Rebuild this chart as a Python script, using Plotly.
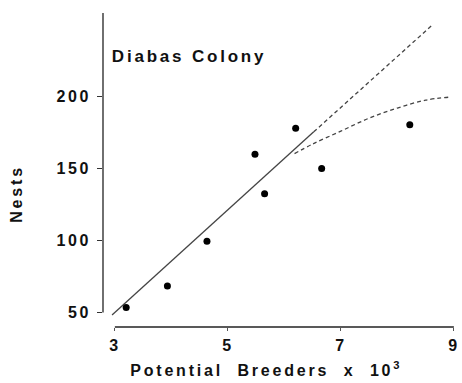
import plotly.graph_objects as go

# Data
breeders = [3.20, 3.93, 4.63, 5.48, 5.65, 6.20, 6.66, 8.22]
nests = [53.5, 68.5, 99.5, 160.0, 132.5, 178.0, 150.0, 180.5]

fit_x = [2.95, 6.52]
fit_y = [48.4, 175.5]

ext_x = [6.52, 8.60]
ext_y = [175.5, 249.0]

curve_x = [6.18, 6.50, 7.00, 7.50, 8.00, 8.50, 8.90]
curve_y = [160.4, 167.0, 176.0, 185.0, 192.0, 197.5, 199.5]

x_ticks = [3, 5, 7, 9]
y_ticks = [50, 100, 150, 200]

X_RANGE = [2.79, 9.02]
Y_RANGE = [40, 258]

FONT = "Liberation Sans, Arial, sans-serif"
INK = "#111111"

def xpaper(v):
    return (v - X_RANGE[0]) / (X_RANGE[1] - X_RANGE[0])

def ypaper(v):
    return (v - Y_RANGE[0]) / (Y_RANGE[1] - Y_RANGE[0])

fig = go.Figure()
fig.add_trace(go.Scatter(x=fit_x, y=fit_y, mode="lines",
                         line=dict(color="#444444", width=1.3), showlegend=False))
fig.add_trace(go.Scatter(x=ext_x, y=ext_y, mode="lines",
                         line=dict(color="#444444", width=1.3, dash="4px,3px"), showlegend=False))
fig.add_trace(go.Scatter(x=curve_x, y=curve_y, mode="lines", line_shape="spline",
                         line=dict(color="#444444", width=1.3, dash="4px,3px"), showlegend=False))
fig.add_trace(go.Scatter(x=breeders, y=nests, mode="markers",
                         marker=dict(color="#000000", size=7), showlegend=False))

fig.update_layout(
    width=462, height=383,
    margin=dict(l=103, r=4, t=13, b=56),
    paper_bgcolor="white", plot_bgcolor="white",
    font=dict(family=FONT, size=16, color=INK, weight="bold"),
    xaxis=dict(range=X_RANGE, tickvals=x_ticks, ticktext=[str(v) for v in x_ticks],
               showgrid=False, zeroline=False, showline=False,
               ticks="outside", ticklen=3, tickcolor="#555", ticklabelstandoff=1,
               tickfont=dict(size=16, weight="bold")),
    yaxis=dict(range=Y_RANGE, tickvals=y_ticks, ticktext=[str(v) for v in y_ticks],
               showgrid=False, zeroline=False, showline=False,
               ticks="outside", ticklen=5, tickcolor="#333", ticklabelstandoff=3,
               tickfont=dict(size=16, weight="bold")),
    shapes=[
        dict(type="line", xref="paper", yref="paper", x0=xpaper(3), x1=xpaper(9), y0=0, y1=0,
             line=dict(color="#222", width=1.6)),
        dict(type="line", xref="paper", yref="paper", x0=0, x1=0, y0=ypaper(50), y1=1,
             line=dict(color="#222", width=1.3)),
    ],
    annotations=[
        dict(text="Diabas Colony", xref="x", yref="paper", x=4.32, y=0.861,
             xanchor="center", yanchor="middle", showarrow=False,
             font=dict(size=17, weight="bold", color=INK)),
        dict(text="Potential\u00a0\u00a0Breeders\u00a0\u00a0x\u00a0\u00a010<sup>3</sup>",
             xref="paper", yref="paper", x=0.465, y=-0.133,
             xanchor="center", yanchor="middle", showarrow=False,
             font=dict(size=16, weight="bold", color=INK)),
        dict(text="Nests", xref="paper", yref="paper", x=-0.245, y=0.4236,
             xanchor="center", yanchor="middle", textangle=-90, showarrow=False,
             font=dict(size=16, weight="bold", color=INK)),
    ],
)

post = """
document.body.style.margin = '0';
document.querySelectorAll('.main-svg .xtick text, .main-svg .ytick text').forEach(function(t){ t.style.letterSpacing = '2.5px'; });
document.querySelectorAll('.main-svg .annotation-text').forEach(function(t){ t.style.letterSpacing = '2.8px'; });
"""
fig.write_html("out.html", post_script=post, config={"displayModeBar": False})
